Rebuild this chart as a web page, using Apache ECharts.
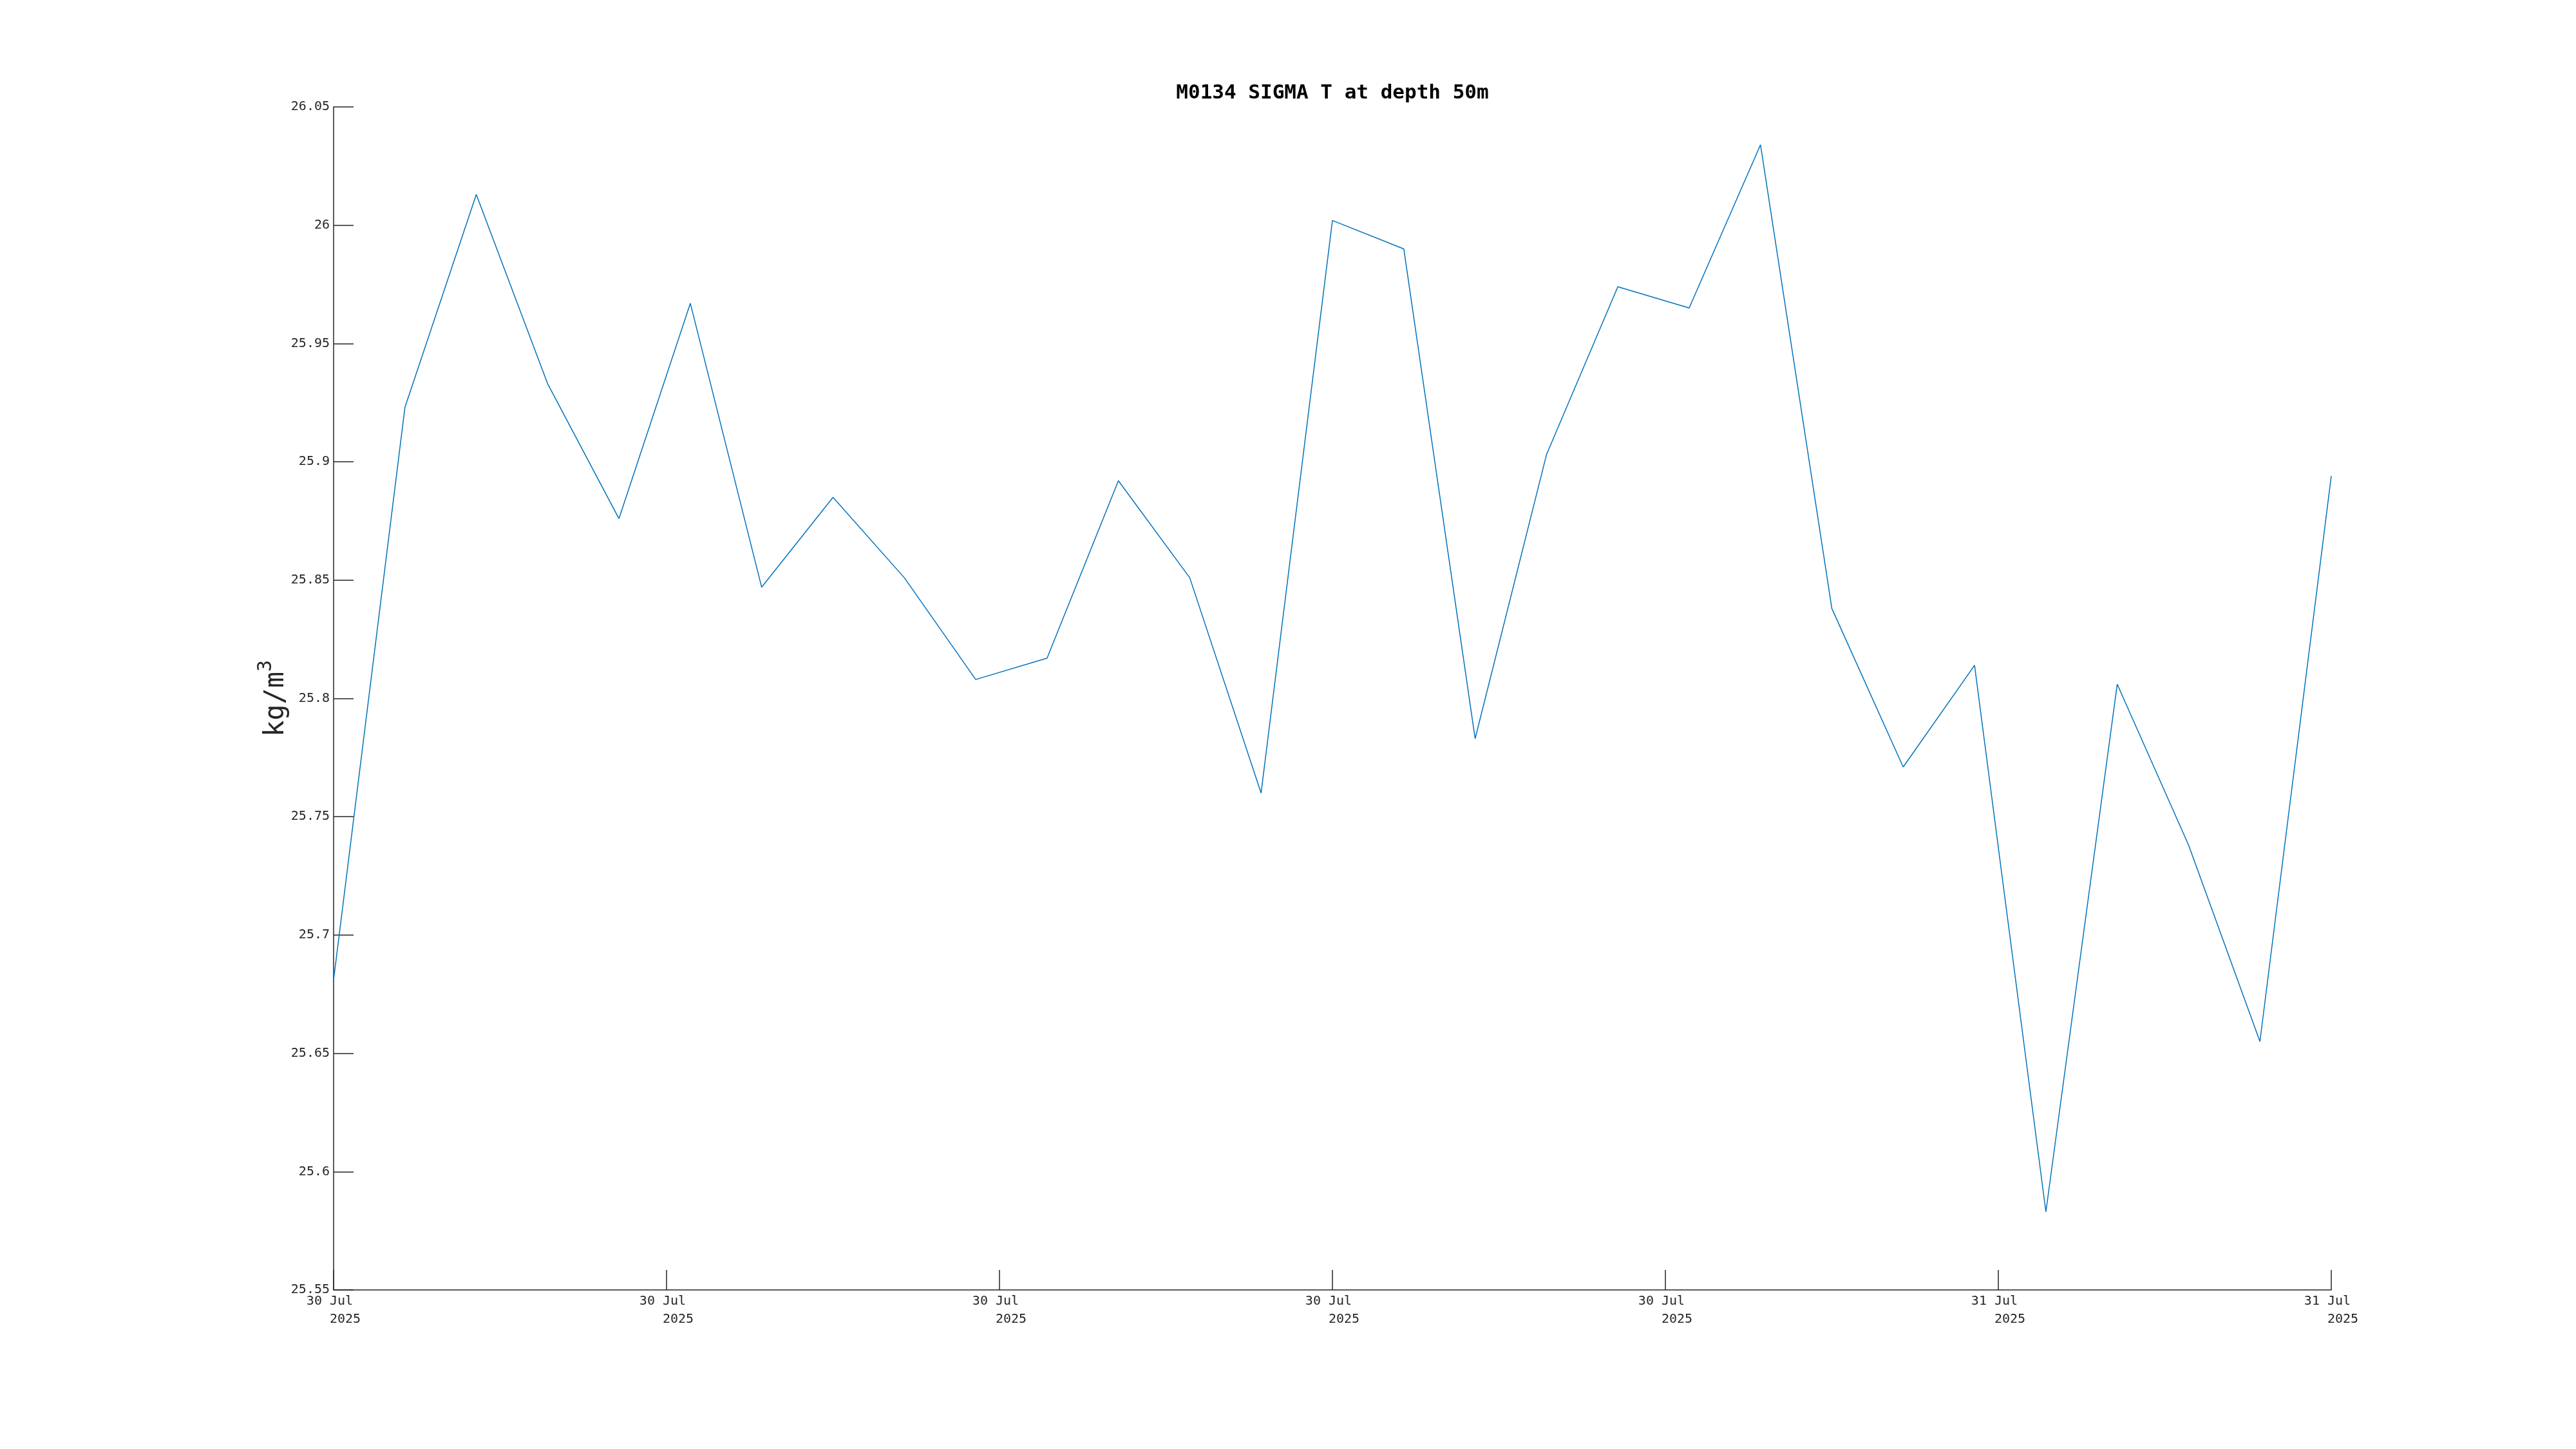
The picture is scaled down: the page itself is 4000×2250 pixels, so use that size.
<!DOCTYPE html>
<html>
<head>
<meta charset="utf-8">
<script src="https://cdn.jsdelivr.net/npm/echarts@6/dist/echarts.min.js"></script>
<style>
html,body{margin:0;padding:0;background:#fff;}
#chart{width:4000px;height:2250px;}
</style>
</head>
<body>
<div id="chart"></div>
<script>
const titleText = 'M0134 SIGMA T at depth 50m';
const sampleIndex = [0,1,2,3,4,5,6,7,8,9,10,11,12,13,14,15,16,17,18,19,20,21,22,23,24,25,26,27,28];
const sigmaT = [25.681,25.923,26.013,25.933,25.876,25.967,25.847,25.885,25.851,25.808,
                25.817,25.892,25.851,25.760,26.002,25.990,25.783,25.903,25.974,25.965,
                26.034,25.838,25.771,25.814,25.583,25.806,25.738,25.655,25.894];
const xTickLabels = ['30 Jul \n   2025','30 Jul \n   2025','30 Jul \n   2025','30 Jul \n   2025',
                     '30 Jul \n   2025','31 Jul \n   2025','31 Jul \n   2025'];
const yTickLabels = ['25.55','25.6','25.65','25.7','25.75','25.8','25.85','25.9','25.95','26','26.05'];

const xMax = sampleIndex[sampleIndex.length - 1];
const xInterval = xMax / (xTickLabels.length - 1);
const yMin = 25.55, yMax = 26.05, yInterval = 0.05;

const chart = echarts.init(document.getElementById('chart'), null, {renderer: 'canvas'});
const axisColor = '#262626';
chart.setOption({
  animation: false,
  backgroundColor: '#ffffff',
  title: {
    text: titleText,
    left: 2069,
    top: 129,
    textAlign: 'center',
    padding: 0,
    textStyle: {fontFamily: 'DejaVu Sans Mono', fontWeight: 'bold', fontSize: 31, color: '#000'}
  },
  grid: {left: 518, right: 380, top: 166, bottom: 247, containLabel: false},
  xAxis: {
    type: 'value',
    min: 0, max: xMax, interval: xInterval,
    axisLine: {show: true, lineStyle: {color: axisColor, width: 1.5}},
    axisTick: {show: true, inside: true, length: 31, lineStyle: {color: axisColor, width: 1.5}},
    splitLine: {show: false},
    axisLabel: {
      show: true, margin: 4,
      fontFamily: 'DejaVu Sans Mono', fontSize: 20, lineHeight: 28, color: axisColor,
      formatter: function (v) { return xTickLabels[Math.round(v / xInterval)] || ''; }
    }
  },
  yAxis: {
    type: 'value',
    min: yMin, max: yMax, interval: yInterval,
    name: '{base|kg/m}{sup|3}',
    nameLocation: 'middle',
    nameRotate: 90,
    nameGap: 68,
    nameMoveOverlap: false,
    nameTextStyle: {
      fontFamily: 'DejaVu Sans Mono', fontSize: 42, color: axisColor,
      rich: {
        base: {fontFamily: 'DejaVu Sans Mono', fontSize: 42, color: axisColor, verticalAlign: 'bottom'},
        sup: {fontFamily: 'DejaVu Sans Mono', fontSize: 30, color: axisColor, verticalAlign: 'top', padding: [0,0,22,0]}
      }
    },
    axisLine: {show: true, lineStyle: {color: axisColor, width: 1.5}},
    axisTick: {show: true, inside: true, length: 31, lineStyle: {color: axisColor, width: 1.5}},
    splitLine: {show: false},
    axisLabel: {
      show: true, margin: 6,
      fontFamily: 'DejaVu Sans Mono', fontSize: 20, color: axisColor,
      formatter: function (v) { return yTickLabels[Math.round((v - yMin) / yInterval)] || ''; }
    }
  },
  series: [{
    type: 'line',
    data: sampleIndex.map((x, i) => [x, sigmaT[i]]),
    showSymbol: false,
    lineStyle: {color: '#0072BD', width: 1.5},
    itemStyle: {color: '#0072BD'}
  }]
});
</script>
</body>
</html>
